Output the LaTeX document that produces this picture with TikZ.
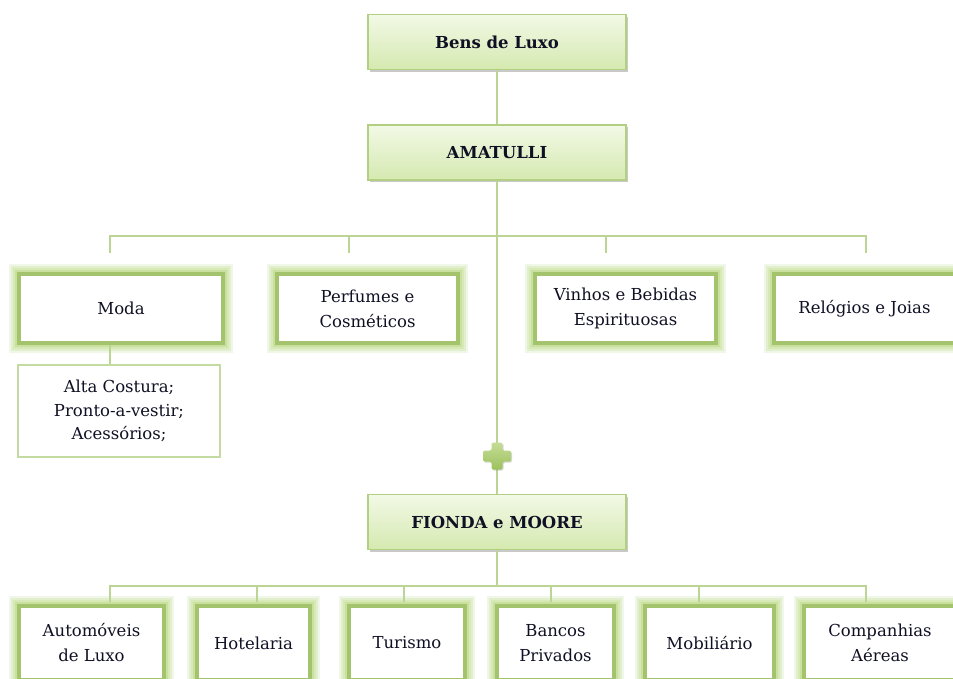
\documentclass[tikz,border=0pt]{standalone}
\usepackage{fontspec}
\setmainfont{DejaVu Serif}
\usetikzlibrary{shadows}

\definecolor{ink}{HTML}{101024}
\definecolor{linkgreen}{HTML}{BCD494}
\definecolor{headborder}{HTML}{B2CF82}
\definecolor{headtop}{HTML}{F2F9E6}
\definecolor{headbot}{HTML}{D5E9B0}
\definecolor{catborder}{HTML}{A3C46C}
\definecolor{glowa}{HTML}{F1F7E8}
\definecolor{glowb}{HTML}{E2EFCC}
\definecolor{glowc}{HTML}{D6E9B6}
\definecolor{glowd}{HTML}{C9E09F}
\definecolor{subborder}{HTML}{C3DBA0}
\definecolor{plustop}{HTML}{C4DD96}
\definecolor{plusbot}{HTML}{9DC15E}

\tikzset{
  link/.style={draw=linkgreen, line width=2pt},
  headbox/.style={draw=headborder, line width=1.2pt, top color=headtop, bottom color=headbot,
    drop shadow={shadow xshift=1.5pt, shadow yshift=-2pt, opacity=0.3, fill=black!70},
    minimum width=258pt, minimum height=55pt, inner sep=0pt, text=ink,
    font=\bfseries\fontsize{16.5}{19}\selectfont},
  catbox/.style={draw=catborder, line width=4pt, fill=white,
    preaction={draw=glowa, line width=20pt},
    preaction={draw=glowb, line width=16pt},
    preaction={draw=glowc, line width=12pt},
    preaction={draw=glowd, line width=8pt},
    inner sep=0pt, text=ink, align=center,
    font=\fontsize{16.5}{25}\selectfont},
  subbox/.style={draw=subborder, line width=1.5pt, fill=white, inner sep=0pt,
    text=ink, align=center, font=\fontsize{16.5}{23.5}\selectfont},
}

\begin{document}
\begin{tikzpicture}[x=1pt,y=-1pt]
\useasboundingbox (0,0) rectangle (953,678);
\clip (0,0) rectangle (953,678);

% top of the hierarchy
\node[headbox] (bens) at (497,42) {Bens de Luxo};
\node[headbox] (amat) at (497,152.5) {AMATULLI};
\node[headbox] (fiond) at (497,522) {FIONDA e MOORE};

% AMATULLI business areas
\node[catbox, minimum width=204pt, minimum height=69pt] (moda) at (121,308.5) {Moda};
\node[catbox, minimum width=181pt, minimum height=69pt] (perf) at (367.5,308.5) {Perfumes e\\Cosméticos};
\node[catbox, minimum width=181pt, minimum height=69pt] (vinh) at (625.5,308.5) {Vinhos e Bebidas\\Espirituosas};
\node[catbox, minimum width=181pt, minimum height=69pt] (relo) at (864.5,308.5) {Relógios e Joias};
\node[subbox, minimum width=202pt, minimum height=92pt] (modasub) at (119,411) {Alta Costura;\\Pronto-a-vestir;\\Acessórios;};

% FIONDA e MOORE business areas
\node[catbox, minimum width=145pt, minimum height=74pt] (auto) at (91.5,643) {Automóveis\\de Luxo};
\node[catbox, minimum width=113pt, minimum height=74pt] (hotel) at (253.5,643) {Hotelaria};
\node[catbox, minimum width=116pt, minimum height=74pt] (turi) at (407,643) {Turismo};
\node[catbox, minimum width=117pt, minimum height=74pt] (banc) at (555.5,643) {Bancos\\Privados};
\node[catbox, minimum width=129pt, minimum height=74pt] (mobi) at (709.5,643) {Mobiliário};
\node[catbox, minimum width=152pt, minimum height=74pt] (comp) at (880,643) {Companhias\\Aéreas};

% branch points
\coordinate (b1) at (497,236);
\coordinate (tk1) at (110,253);
\coordinate (tk2) at (349,253);
\coordinate (tk3) at (606,253);
\coordinate (tk4) at (866,253);
\coordinate (b2) at (497,586);
\coordinate (bt1) at (110,602);
\coordinate (bt2) at (257,602);
\coordinate (bt3) at (404,602);
\coordinate (bt4) at (551,602);
\coordinate (bt5) at (699,602);
\coordinate (bt6) at (866,602);
\coordinate (plus) at (497,456);

% connectors
\draw[link] (bens.south) -- (amat.north);
\draw[link] (amat.south) -- (fiond.north);
\draw[link] (tk1) |- (b1) -| (tk4);
\draw[link] (tk2) -- (tk2 |- b1);
\draw[link] (tk3) -- (tk3 |- b1);
\draw[link] (tk1 |- moda.south) -- (tk1 |- modasub.north);
\draw[link] (fiond.south) -- (b2);
\draw[link] (bt1) |- (b2) -| (bt6);
\draw[link] (bt2) -- (bt2 |- b2);
\draw[link] (bt3) -- (bt3 |- b2);
\draw[link] (bt4) -- (bt4 |- b2);
\draw[link] (bt5) -- (bt5 |- b2);

% plus sign joining the two groups
\begin{scope}[shift={(plus)}]
\path[top color=plustop, bottom color=plusbot, rounded corners=1.5pt,
      drop shadow={shadow xshift=1pt, shadow yshift=-1pt, opacity=0.25, fill=black!60}]
  (-5.5,-13.5) -- (5.5,-13.5) -- (5.5,-5.5) -- (14,-5.5) -- (14,5.5) -- (5.5,5.5)
  -- (5.5,13.5) -- (-5.5,13.5) -- (-5.5,5.5) -- (-14,5.5) -- (-14,-5.5) -- (-5.5,-5.5) -- cycle;
\end{scope}
\end{tikzpicture}
\end{document}
